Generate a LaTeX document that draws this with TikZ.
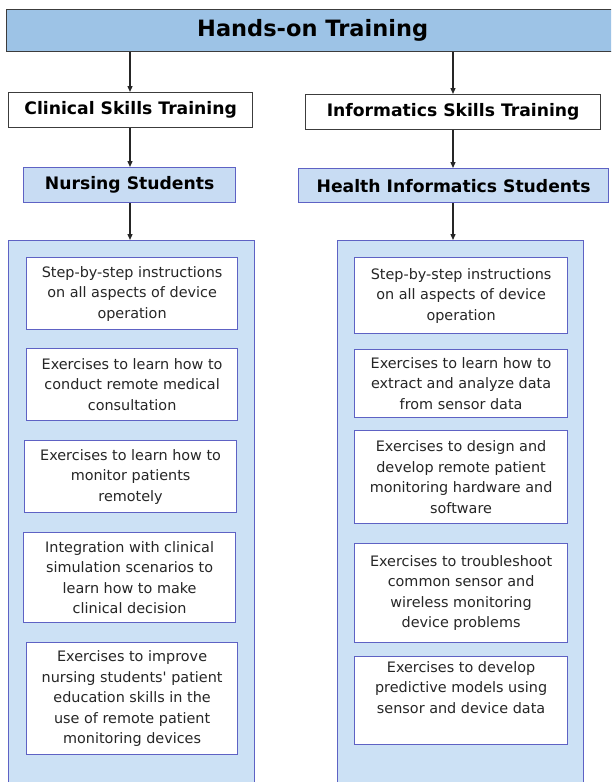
\documentclass[tikz,border=0pt]{standalone}
\usepackage{fontspec}
\setmainfont{DejaVu Sans}
\usetikzlibrary{arrows.meta}
\definecolor{topfill}{HTML}{9DC3E6}
\definecolor{topline}{HTML}{3C3C3C}
\definecolor{stufill}{HTML}{C8DCF3}
\definecolor{panelfill}{HTML}{CCE1F5}
\definecolor{blueline}{HTML}{5E62C4}
\definecolor{txt}{HTML}{262626}
\begin{document}
\begin{tikzpicture}[x=1pt,y=-1pt,
  arr/.style={-{Triangle[length=6pt,width=5pt]}, line width=1.3pt, black!85},
  hbox/.style={draw=topline, line width=1.3pt, rectangle, anchor=north west, inner sep=0pt, align=center, font=\fontsize{17.2}{20}\selectfont\bfseries},
  sbox/.style={draw=blueline, fill=stufill, line width=1.3pt, rectangle, anchor=north west, inner sep=0pt, align=center, font=\fontsize{17.2}{20}\selectfont\bfseries},
  panel/.style={draw=blueline, fill=panelfill, line width=1.1pt, rectangle, anchor=north west, inner sep=0pt},
  ibox/.style={draw=blueline, fill=white, line width=1.2pt, rectangle, anchor=north west, inner sep=0pt, align=center, text=txt, font=\fontsize{14.4}{20.5}\selectfont}]
\useasboundingbox (0,0) rectangle (611,782);
\clip (0,0) rectangle (611,782);
% top
\node[hbox, fill=topfill, minimum width=612pt, minimum height=42pt, font=\fontsize{22.5}{26}\selectfont\bfseries] (top) at (6,9) {Hands-on Training};
% second row
\node[hbox, fill=white, minimum width=244pt, minimum height=35pt] (clin) at (8,92) {Clinical Skills Training};
\node[hbox, fill=white, minimum width=295pt, minimum height=35pt] (info) at (305,94) {Informatics Skills Training};
% third row
\node[sbox, minimum width=212pt, minimum height=35pt] (nurse) at (23,167) {Nursing Students};
\node[sbox, minimum width=310pt, minimum height=34pt] (hist) at (298,168) {Health Informatics Students};
% panels
\node[panel, minimum width=246pt, minimum height=560pt] (lpan) at (8,240) {};
\node[panel, minimum width=246pt, minimum height=560pt] (rpan) at (337,240) {};
% arrows
\coordinate (lx) at (130,0);
\coordinate (rx) at (453,0);
\draw[arr] (top.south -| lx) -- (clin.north -| lx);
\draw[arr] (clin.south -| lx) -- (nurse.north -| lx);
\draw[arr] (nurse.south -| lx) -- (lpan.north -| lx);
\draw[arr] (top.south -| rx) -- (info.north -| rx);
\draw[arr] (info.south -| rx) -- (hist.north -| rx);
\draw[arr] (hist.south -| rx) -- (rpan.north -| rx);
% left inner boxes
\node[ibox, minimum width=211pt, minimum height=72pt] (l1) at (26,257) {Step-by-step instructions\\on all aspects of device\\operation};
\node[ibox, minimum width=211pt, minimum height=72pt] (l2) at (26,348) {Exercises to learn how to\\conduct remote medical\\consultation};
\node[ibox, minimum width=212pt, minimum height=72pt] (l3) at (24,440) {Exercises to learn how to\\monitor patients\\remotely};
\node[ibox, minimum width=212pt, minimum height=90pt] (l4) at (23,532) {Integration with clinical\\simulation scenarios to\\learn how to make\\clinical decision};
\node[ibox, minimum width=211pt, minimum height=112pt] (l5) at (26,642) {Exercises to improve\\nursing students\textquotesingle{} patient\\education skills in the\\use of remote patient\\monitoring devices};
% right inner boxes
\node[ibox, minimum width=213pt, minimum height=76pt] (r1) at (354,257) {Step-by-step instructions\\on all aspects of device\\operation};
\node[ibox, minimum width=213pt, minimum height=68pt] (r2) at (354,349) {Exercises to learn how to\\extract and analyze data\\from sensor data};
\node[ibox, minimum width=213pt, minimum height=93pt] (r3) at (354,430) {Exercises to design and\\develop remote patient\\monitoring hardware and\\software};
\node[ibox, minimum width=213pt, minimum height=99pt] (r4) at (354,543) {Exercises to troubleshoot\\common sensor and\\wireless monitoring\\device problems};
\node[ibox, minimum width=213pt, minimum height=88pt] (r5) at (354,656) {Exercises to develop\\predictive models using\\sensor and device data\\[6pt]};
\end{tikzpicture}
\end{document}
